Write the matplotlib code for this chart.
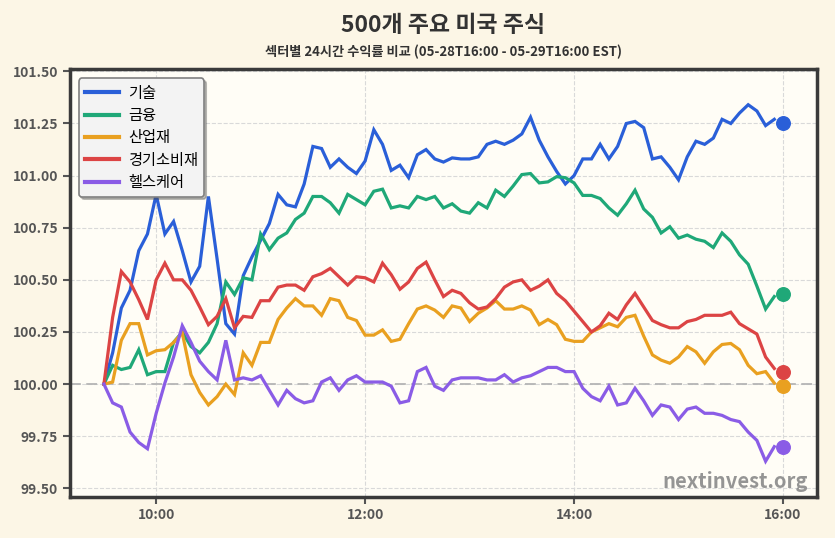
import matplotlib
matplotlib.use("Agg")
import matplotlib.pyplot as plt
import numpy as np

plt.rcParams['font.family'] = ['Noto Sans CJK KR', 'DejaVu Sans']

sectors = ["기술", "금융", "산업재", "경기소비재", "헬스케어"]
colors = ["#2a5fd8", "#1fa878", "#e9a020", "#dc4444", "#8a5ce6"]

tech = [100.00, 100.15, 100.365, 100.45, 100.64, 100.72, 100.91, 100.72, 100.78, 100.64,
        100.49, 100.565, 100.90, 100.60, 100.29, 100.24, 100.52, 100.61, 100.69, 100.77,
        100.91, 100.86, 100.85, 100.96, 101.14, 101.13, 101.04, 101.08, 101.04, 101.01,
        101.07, 101.22, 101.15, 101.025, 101.05, 100.99, 101.10, 101.125, 101.08, 101.065,
        101.085, 101.08, 101.08, 101.09, 101.15, 101.165, 101.15, 101.17, 101.20, 101.28,
        101.17, 101.09, 101.02, 100.96, 101.00, 101.08, 101.08, 101.15, 101.08, 101.14,
        101.25, 101.26, 101.23, 101.08, 101.09, 101.04, 100.98, 101.09, 101.165, 101.15,
        101.18, 101.27, 101.25, 101.30, 101.34, 101.31, 101.24, 101.27]
fin = [100.00, 100.09, 100.07, 100.08, 100.165, 100.045, 100.06, 100.06, 100.20, 100.25,
       100.18, 100.15, 100.20, 100.29, 100.49, 100.43, 100.51, 100.50, 100.72, 100.645,
       100.70, 100.725, 100.79, 100.82, 100.90, 100.90, 100.87, 100.82, 100.91, 100.885,
       100.86, 100.925, 100.935, 100.845, 100.855, 100.845, 100.90, 100.885, 100.90, 100.845,
       100.865, 100.83, 100.82, 100.87, 100.845, 100.93, 100.90, 100.95, 101.005, 101.01,
       100.965, 100.97, 100.995, 100.99, 100.965, 100.905, 100.905, 100.89, 100.845, 100.81,
       100.865, 100.93, 100.84, 100.80, 100.725, 100.755, 100.70, 100.715, 100.695, 100.685,
       100.655, 100.725, 100.685, 100.62, 100.575, 100.47, 100.36, 100.42]
ind = [100.00, 100.01, 100.21, 100.29, 100.29, 100.14, 100.16, 100.165, 100.20, 100.245,
       100.045, 99.96, 99.90, 99.94, 100.00, 99.95, 100.15, 100.09, 100.20, 100.20,
       100.31, 100.365, 100.41, 100.375, 100.375, 100.33, 100.41, 100.40, 100.32, 100.305,
       100.235, 100.235, 100.26, 100.205, 100.215, 100.29, 100.36, 100.375, 100.355, 100.32,
       100.375, 100.365, 100.30, 100.34, 100.365, 100.40, 100.36, 100.36, 100.375, 100.355,
       100.285, 100.31, 100.285, 100.215, 100.205, 100.205, 100.25, 100.27, 100.29, 100.275,
       100.32, 100.33, 100.23, 100.14, 100.115, 100.10, 100.13, 100.18, 100.155, 100.10,
       100.155, 100.19, 100.195, 100.165, 100.09, 100.05, 100.06, 100.005]
cons = [100.00, 100.32, 100.54, 100.49, 100.405, 100.31, 100.50, 100.58, 100.50, 100.50,
        100.45, 100.37, 100.285, 100.325, 100.41, 100.27, 100.325, 100.32, 100.40, 100.40,
        100.465, 100.475, 100.475, 100.45, 100.515, 100.53, 100.555, 100.515, 100.475, 100.515,
        100.51, 100.49, 100.58, 100.525, 100.455, 100.49, 100.555, 100.585, 100.50, 100.42,
        100.45, 100.435, 100.39, 100.36, 100.37, 100.41, 100.465, 100.49, 100.50, 100.45,
        100.47, 100.50, 100.435, 100.40, 100.35, 100.30, 100.25, 100.28, 100.34, 100.31,
        100.38, 100.435, 100.37, 100.305, 100.285, 100.27, 100.27, 100.30, 100.31, 100.33,
        100.33, 100.33, 100.345, 100.29, 100.265, 100.24, 100.13, 100.075]
health = [100.00, 99.91, 99.89, 99.77, 99.72, 99.69, 99.86, 100.005, 100.13, 100.28,
          100.20, 100.11, 100.06, 100.02, 100.21, 100.02, 100.03, 100.02, 100.04, 99.97,
          99.90, 99.97, 99.93, 99.91, 99.92, 100.01, 100.03, 99.97, 100.02, 100.04,
          100.01, 100.01, 100.01, 99.99, 99.91, 99.92, 100.06, 100.08, 99.99, 99.97,
          100.02, 100.03, 100.03, 100.03, 100.02, 100.02, 100.045, 100.01, 100.03, 100.04,
          100.06, 100.08, 100.08, 100.06, 100.06, 99.98, 99.94, 99.92, 99.99, 99.90,
          99.91, 99.98, 99.92, 99.85, 99.90, 99.89, 99.83, 99.88, 99.89, 99.86,
          99.86, 99.85, 99.83, 99.82, 99.77, 99.73, 99.63, 99.70]
final_values = [101.25, 100.43, 99.99, 100.06, 99.70]

start_minute = 9 * 60 + 30
step_minutes = 5
final_minute = 16 * 60
tick_minutes = [600, 720, 840, 960]
tick_labels = ["10:00", "12:00", "14:00", "16:00"]
y_ticks = [99.50, 99.75, 100.00, 100.25, 100.50, 100.75, 101.00, 101.25, 101.50]

series = [tech, fin, ind, cons, health]
x = start_minute + step_minutes * np.arange(len(tech))

fig = plt.figure(figsize=(8.35, 5.38), dpi=100)
fig.patch.set_facecolor("#fcf6e6")
ax_left, ax_width = 0.0838, 0.8946
ax = fig.add_axes([ax_left, 0.0768, ax_width, 0.7944])
ax.set_facecolor("#fffdf6")

for name, vals, c in zip(sectors, series, colors):
    ax.plot(x, vals, color=c, lw=2.3, label=name, solid_joinstyle="miter", zorder=3)
for vals, fv, c in zip(series, final_values, colors):
    ax.scatter([final_minute], [fv], s=95, color=c, zorder=4)

ax.axhline(100.0, color="#b5b5b5", lw=1.3, ls=(0, (6, 3)), zorder=2)
ax.grid(True, color="#d9d9d9", ls="--", lw=0.8, zorder=1)

ax.set_xlim(start_minute - 19.5, final_minute + 19.5)
ax.set_ylim(99.46, 101.51)
ax.set_xticks(tick_minutes)
ax.set_xticklabels(tick_labels)
ax.set_yticks(y_ticks)
ax.set_yticklabels([f"{v:.2f}" for v in y_ticks])
ax.tick_params(axis="both", labelsize=10, colors="#555555", length=5, width=1.5,
               direction="out")
for lab in ax.get_xticklabels() + ax.get_yticklabels():
    lab.set_fontweight("bold")
for sp in ax.spines.values():
    sp.set_color("#3a3a3a")
    sp.set_linewidth(2.5)

leg = ax.legend(loc="upper left", fontsize=11, frameon=True,
                shadow={"ox": 1.5, "oy": -1.5, "alpha": 0.35},
                fancybox=True, borderpad=0.4, borderaxespad=0.6, handlelength=2.2,
                handletextpad=0.6, labelspacing=0.35)
leg.get_frame().set_facecolor("#f3f3f3")
leg.get_frame().set_edgecolor("#808080")
leg.get_frame().set_linewidth(1.2)
for h in leg.get_lines():
    h.set_linewidth(3)

ax.text(0.988, 0.012, "nextinvest.org", transform=ax.transAxes, ha="right", va="bottom",
        fontsize=14.5, fontweight="bold", color="#8a8a8a", alpha=0.9, zorder=5)

cx = ax_left + ax_width / 2
fig.text(cx, 0.953, "500개 주요 미국 주식", ha="center", va="center", fontsize=16.5,
         fontweight="bold", color="#333333")
fig.text(cx, 0.903, "섹터별 24시간 수익률 비교 (05-28T16:00 - 05-29T16:00 EST)",
         ha="center", va="center", fontsize=9.5, fontweight="bold", color="#333333")

fig.savefig("out.png", dpi=100, facecolor=fig.get_facecolor())
